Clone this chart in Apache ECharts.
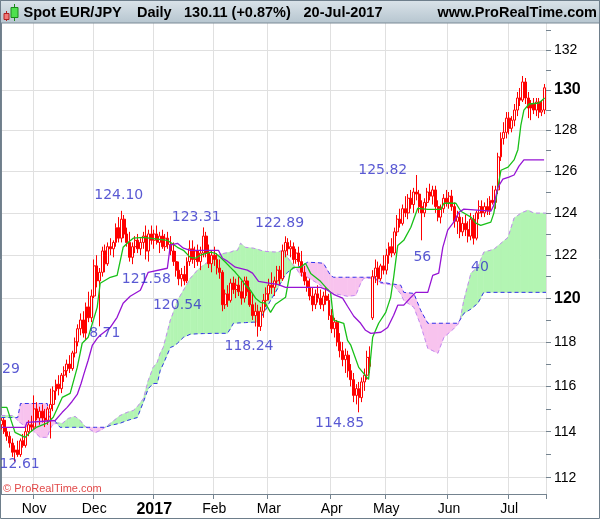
<!DOCTYPE html>
<html><head><meta charset="utf-8">
<script src="https://cdn.jsdelivr.net/npm/echarts@6/dist/echarts.min.js"></script>
<style>html,body{margin:0;padding:0;background:#fff}#c{width:600px;height:519px}</style>
</head><body><div id="c"></div>
<script>
// ---------- DATA ----------
const opens = [114.3,114.5,114.0,113.8,113.5,113.1,113.2,113.0,113.6,113.4,114.0,114.3,114.2,115.0,114.6,114.9,114.6,114.5,115.0,115.2,
115.8,116.1,115.9,116.5,116.7,117.0,116.8,117.5,118.0,118.6,119.0,118.4,119.6,119.1,120.1,121.5,120.8,121.2,122.2,121.6,
122.4,122.3,122.6,123.3,122.8,123.7,123.0,122.6,121.9,122.4,122.7,122.3,122.6,122.9,122.2,123.0,122.7,123.0,122.6,122.9,
122.4,122.8,122.5,122.2,121.7,121.3,120.9,121.1,120.8,121.7,122.3,121.8,122.2,121.7,122.1,122.9,122.1,121.6,122.0,121.8,
121.4,121.2,119.7,120.2,119.9,120.7,120.4,120.6,120.3,120.0,120.8,120.3,119.7,119.2,119.4,118.7,119.4,119.9,120.2,120.6,
120.5,120.8,121.3,120.9,122.2,122.6,122.3,122.4,121.8,122.1,121.7,121.2,120.8,120.5,120.1,119.7,120.2,120.0,119.7,120.1,
119.9,119.2,118.6,118.9,118.0,117.6,117.2,117.4,116.7,116.3,115.6,115.9,115.5,116.2,116.5,117.3,119.1,121.0,121.4,120.9,
121.5,121.3,122.0,122.4,122.1,123.1,123.7,123.5,124.2,124.0,124.7,124.4,125.0,124.9,124.3,124.0,124.5,125.0,124.8,125.1,
124.3,123.8,124.2,124.7,124.5,124.8,124.3,123.6,123.8,123.1,123.5,123.2,122.9,123.7,122.8,124.0,124.3,124.0,124.3,124.1,
124.6,124.5,125.1,126.7,127.6,127.9,128.6,128.1,128.5,129.0,129.6,129.5,130.4,129.6,129.1,129.3,129.0,129.4,128.9,129.0];
const highs = [114.6,114.6,114.2,114.0,113.7,113.4,113.6,113.7,113.9,114.2,114.5,114.7,115.6,115.3,115.1,115.2,115.0,115.1,115.9,116.0,
116.3,116.5,116.6,116.9,117.2,117.4,117.6,118.2,118.8,119.3,119.4,119.8,120.3,120.4,121.8,122.0,121.4,122.4,122.5,122.6,
122.8,122.7,123.5,123.8,124.10,123.9,123.3,123.1,122.6,122.9,123.0,122.8,123.1,123.4,123.2,123.4,123.2,123.4,123.1,123.2,
123.0,123.1,122.9,122.6,122.2,121.7,121.4,121.5,121.9,122.7,122.7,122.4,122.5,122.4,123.31,123.1,122.5,122.2,122.4,122.1,
121.8,121.3,120.4,120.6,120.9,121.0,120.9,121.0,120.8,121.0,121.0,120.5,120.2,119.8,119.7,119.6,120.2,120.5,120.9,121.2,
121.0,121.5,121.5,122.5,122.89,122.8,122.7,122.6,122.3,122.4,122.2,121.5,121.0,120.9,120.5,120.4,120.6,120.4,120.3,120.5,
120.2,119.5,119.1,119.0,118.4,118.0,117.7,117.6,117.0,116.6,116.1,116.2,116.4,116.8,117.6,117.8,121.3,121.8,121.7,121.6,
122.0,122.3,122.6,122.8,123.3,123.9,124.2,124.4,124.8,124.9,125.1,125.2,125.82,125.1,124.6,124.7,125.2,125.4,125.3,125.3,
124.6,124.4,124.9,125.1,125.0,125.1,124.5,124.1,124.0,123.8,123.9,123.6,124.0,123.9,124.1,124.6,124.6,124.5,124.7,124.8,
125.3,125.3,126.9,127.9,128.4,128.9,128.9,128.7,129.3,129.9,130.1,130.7,130.6,129.9,129.5,129.6,129.6,129.6,129.5,130.3];
const lows = [114.1,113.9,113.6,113.3,112.9,112.7,112.9,112.9,113.3,113.3,113.8,114.0,114.1,114.5,114.3,114.4,114.2,114.3,113.7,114.9,
115.4,115.6,115.7,116.2,116.4,116.6,116.7,117.3,117.8,118.3,118.2,118.1,118.9,118.9,120.0,120.5,118.71,121.0,121.2,121.5,
122.0,121.9,122.4,122.6,122.6,122.8,122.4,121.7,121.58,122.1,122.1,122.0,122.3,121.8,121.7,122.5,122.3,122.5,122.1,122.3,
122.2,122.3,122.0,121.5,121.0,120.6,120.54,120.6,120.7,121.5,121.6,121.4,121.5,121.3,121.9,121.9,121.4,121.2,121.5,121.1,
120.9,119.4,119.5,119.6,119.8,120.2,120.0,120.1,119.7,119.8,120.1,119.6,119.0,118.7,118.24,118.5,119.1,119.6,119.9,120.2,
120.1,120.6,120.6,120.8,121.9,122.0,121.9,121.6,121.6,121.5,121.0,120.6,120.3,119.9,119.4,119.5,119.8,119.5,119.4,119.7,
119.0,118.4,118.2,117.8,117.3,116.9,116.6,116.4,116.0,115.3,115.2,114.85,115.3,115.8,116.3,116.6,119.0,120.7,120.6,120.8,
121.1,121.1,121.6,121.9,122.0,122.9,123.3,123.4,123.8,123.7,124.2,124.0,124.6,124.0,122.7,123.8,124.3,124.6,124.4,124.0,
123.6,123.5,124.0,124.3,124.2,124.1,123.3,123.0,122.8,122.9,122.9,122.6,122.7,122.5,122.7,123.7,123.8,123.8,123.9,123.9,
124.4,124.2,124.9,126.5,127.3,127.6,127.8,127.9,128.2,128.7,129.2,129.4,129.3,128.6,128.5,128.8,128.7,128.6,128.7,128.8];
const closes = [114.5,114.0,113.8,113.5,113.1,113.2,113.0,113.6,113.4,114.0,114.3,114.2,115.0,114.6,114.9,114.6,114.5,115.0,115.2,115.8,
116.1,115.9,116.5,116.7,117.0,116.8,117.5,118.0,118.6,119.0,118.4,119.6,119.1,120.1,121.5,120.8,121.2,122.2,121.6,122.4,
122.3,122.6,123.3,122.8,123.7,123.0,122.6,121.9,122.4,122.7,122.3,122.6,122.9,122.2,123.0,122.7,123.0,122.6,122.9,122.4,
122.8,122.5,122.2,121.7,121.3,120.9,121.1,120.8,121.7,122.3,121.8,122.2,121.7,122.1,122.9,122.1,121.6,122.0,121.8,121.4,
121.2,119.7,120.2,119.9,120.7,120.4,120.6,120.3,120.0,120.8,120.3,119.7,119.2,119.4,118.7,119.4,119.9,120.2,120.6,120.5,
120.8,121.3,120.9,122.2,122.6,122.3,122.4,121.8,122.1,121.7,121.2,120.8,120.5,120.1,119.7,120.2,120.0,119.7,120.1,119.9,
119.2,118.6,118.9,118.0,117.6,117.2,117.4,116.7,116.3,115.6,115.9,115.5,116.2,116.5,117.3,116.9,121.0,121.4,120.9,121.5,
121.3,122.0,122.4,122.1,123.1,123.7,123.5,124.2,124.0,124.7,124.4,125.0,124.9,124.3,124.0,124.5,125.0,124.8,125.1,124.3,
123.8,124.2,124.7,124.5,124.8,124.3,123.6,123.8,123.1,123.5,123.2,122.9,123.7,122.8,124.0,124.3,124.0,124.3,124.1,124.6,
124.5,125.1,126.7,127.6,127.9,128.6,128.1,128.5,129.0,129.6,129.5,130.4,129.6,129.1,129.3,129.0,129.4,128.9,129.0,130.11];

// Tenkan-sen (green) [day index, price]
const tenkan = [[0,115.07],[2,115.07],[5,113.97],[8.7,113.75],[10.5,113.97],[13,114.2],[16.7,114.37],[19,114.63],[22.3,115.51],[25.2,115.69],
[27.8,116.85],[29.6,117.94],[31.8,118.21],[35.1,119.58],[36.2,120.69],[39.9,120.97],[42.4,121.06],[44.6,122.37],[46.1,122.56],[48.3,122.8],
[52,122.84],[60.8,122.7],[64.5,122.37],[66.7,122.23],[69.2,121.9],[71.1,121.86],[72.9,122.0],[76.6,122.14],[78.4,122.09],[80.2,121.9],
[82.1,121.67],[83.9,121.43],[85.7,121.2],[87.6,120.92],[89.4,120.6],[91.2,120.37],[93.1,120.0],[94.9,119.81],[96.7,119.77],[98.6,119.35],
[100.4,119.72],[104.1,120.04],[105.9,121.29],[107,121.43],[109.6,121.43],[111.4,121.62],[113.3,121.15],[116.9,120.78],[119.5,120.41],[120.6,120.27],
[121.7,118.99],[125.4,118.85],[126.8,118.07],[128,117.85],[130.9,116.85],[134.5,116.31],[136,118.21],[138.2,118.85],[140.8,119.35],[142.6,120.04],
[143.7,120.97],[145.2,122.46],[147.4,122.7],[150,123.32],[152.5,124.22],[156.2,124.17],[161,124.17],[162.1,124.46],[166.5,124.46],[168.3,124.08],
[172,123.8],[173.8,123.51],[175.6,123.41],[179.3,123.56],[180.4,123.99],[181.9,125.24],[183,126.05],[185.6,126.2],[187.8,126.55],[189.2,127.05],
[190.3,128.26],[191.4,129.0],[193.3,129.3],[196.9,129.35],[199,129.6]];

// Kijun-sen (purple)
const kijun = [[0,114.19],[8.7,114.19],[9.4,114.41],[19.7,114.49],[22.3,114.85],[24.1,115.07],[25.9,115.33],[27.8,115.64],[29.2,116.13],[30.3,116.58],
[31.8,117.17],[33.3,117.84],[35.1,118.16],[36.2,118.3],[39.9,118.66],[42.4,119.12],[44.6,119.77],[47.2,120.09],[50.9,120.37],[53.8,121.2],
[60.8,121.39],[61.9,122.47],[64.5,122.56],[66.7,122.33],[69.2,122.23],[79.5,122.23],[81,121.86],[82.8,121.72],[85.7,121.44],[90.1,121.3],
[92,121.16],[94.2,120.78],[98.6,120.69],[101.2,120.64],[104.1,120.5],[116.9,120.5],[119.5,120.37],[121.7,120.18],[125,120.0],[126.8,119.63],
[129.1,119.17],[131.6,118.85],[133.4,118.53],[135.3,118.39],[139,118.44],[141.5,118.66],[143.7,119.22],[145.2,119.68],[147.4,119.68],[150,120.04],
[151.8,120.27],[156.2,120.27],[158,121.06],[160.2,121.16],[161.7,122.37],[163.5,123.18],[165.7,123.56],[167.6,124.03],[169.4,124.18],[179.3,124.08],
[180.4,124.37],[181.9,125.23],[183.7,125.62],[185.9,125.72],[187.8,125.82],[189.6,126.25],[191.4,126.55],[198.8,126.55]];

// Cloud: [day index, Senkou span A, Senkou span B]
const cloud = [[0,114.71,114.62],[4,114.71,114.62],[5,114.62,114.62],[6,114.5,114.62],[7,114.38,115.24],[8,114.3,115.24],[11.6,114.05,115.24],[14.2,113.75,115.24],
[16.8,113.75,115.24],[17.8,114.1,114.62],[18.6,114.27,114.55],[19.7,114.35,114.46],[20.4,114.41,114.35],[21.5,114.38,114.19],[22.3,114.36,114.19],[24.5,114.58,114.19],
[27,114.67,114.19],[28.9,114.49,114.19],[30.3,114.27,114.19],[31,114.19,114.19],[31.8,114.14,114.19],[34.4,113.96,114.19],[36.2,114.05,114.19],[38,114.19,114.19],
[39.9,114.36,114.27],[43.5,114.71,114.37],[46.1,114.85,114.49],[48.3,114.93,114.57],[49.8,115.1,114.62],[52,115.45,115.3],[53.8,116.26,115.9],[55.6,116.85,116.13],
[57.1,117.08,116.13],[58.2,117.5,116.72],[59.3,117.75,117.0],[61.9,118.99,117.75],[63,119.35,117.8],[64.5,119.9,117.94],[66.7,120.37,118.21],[69.2,120.92,118.35],
[71.8,121.3,118.37],[74,121.53,118.38],[77.7,121.86,118.39],[80.2,122.05,118.39],[82.8,122.12,118.39],[83.9,122.14,118.6],[85,122.2,118.85],[86.5,122.23,118.86],
[87.6,122.56,118.87],[89.4,122.37,118.88],[92.3,122.33,118.9],[93.8,122.28,118.9],[96,122.19,119.3],[96.7,122.18,119.44],[98.6,122.16,119.9],[100.4,122.15,120.27],
[101.2,122.14,120.45],[102.3,122.2,120.69],[103.4,122.23,120.95],[104.8,121.9,121.2],[107,121.53,121.39],[107.8,121.43,121.43],[109.6,121.06,121.48],[112.2,120.97,121.67],
[115.8,120.69,121.65],[118,120.5,121.62],[119.9,120.38,121.2],[120.6,120.27,121.05],[121.7,120.22,120.97],[126.8,120.09,120.97],[129.8,120.13,120.97],[131.6,120.69,120.97],
[132.7,120.92,120.97],[136.4,120.92,120.97],[139,120.69,120.74],[143.7,120.6,120.65],[146.3,120.2,120.6],[147.4,119.9,120.27],[151.1,119.58,120.22],[153.6,118.76,119.44],
[156.2,117.71,118.85],[159.9,117.49,118.85],[162.1,118.21,118.85],[165.7,118.6,118.85],[167.2,118.8,118.85],[168,119.0,119.0],[169.4,119.9,119.3],[172,121.16,119.5],
[174.5,121.44,119.76],[176.7,122.14,120.27],[180.4,122.28,120.27],[183,122.56,120.27],[185.6,122.84,120.27],[187.8,123.75,120.27],[190.3,123.99,120.27],[192.9,124.13,120.27],
[195.1,123.99,120.27],[199.5,123.99,120.27]];

// price annotations: text, day index, price (label centre)
const annoText  = ['124.10','123.31','122.89','121.58','120.54','118.24','114.85','125.82','56','40','29','12.61','8.71'];
const annoIdx   = [43.0, 71.4, 101.9, 53.1, 64.5, 90.7, 123.9, 139.7, 154.2, 175.3, 3.5, 6.7, 37.9];
const annoPrice = [124.85,123.8,123.52,120.88,119.68,117.82,114.36,126.06,121.9,121.44,116.77,112.57,118.39];

const yLabels = [112,114,116,118,120,122,124,126,128,130,132];
const yTicks  = [112,113,114,115,116,117,118,119,120,121,122,123,124,125,126,127,128,129,130,131,132,133];
const monthNames = ['Jan','Feb','Mar','Apr','May','Jun','Jul','Aug','Sep','Oct','Nov','Dec'];

// trading days (weekdays) 14-Oct-2016 .. 20-Jul-2017
const categories = [];
for (let d = new Date(Date.UTC(2016,9,14)); d <= new Date(Date.UTC(2017,6,20)); d.setUTCDate(d.getUTCDate()+1)) {
  const wd = d.getUTCDay(); if (wd === 0 || wd === 6) continue;
  categories.push(d.toISOString().slice(0,10));
}
const isMonthStart = categories.map((c,i)=> i>0 && c.slice(5,7) !== categories[i-1].slice(5,7));

// ---------- CHART ----------
const L = Math.log;
const YMIN = L(111.30), YMAX = L(133.39);
const N = categories.length;
const chart = echarts.init(document.getElementById('c'));
const axisCol = '#74838f', gridCol = '#e0e0e0';
const GREEN = '#b3f5b3', PINK = '#f8c3ee';
const cloudData = cloud.map(p=>[p[0], L(p[1]), L(p[2])]);

function renderCloud(params, api) {
  const i = params.dataIndex;
  if (i >= cloudData.length - 1) return null;
  const p0 = cloudData[i], p1 = cloudData[i+1];
  const d0 = p0[1] - p0[2], d1 = p1[1] - p1[2];
  const c = (v)=>api.coord(v);
  const poly = (pts, col)=>({type: 'polygon', shape: {points: pts.map(c)},
    style: {fill: col, stroke: col, lineWidth: 0.6}});
  const children = [];
  if (d0 * d1 < 0) {
    const t = d0 / (d0 - d1);
    const xc = p0[0] + t * (p1[0] - p0[0]);
    const yc = p0[1] + t * (p1[1] - p0[1]);
    children.push(poly([[p0[0],p0[1]],[xc,yc],[p0[0],p0[2]]], d0 > 0 ? GREEN : PINK));
    children.push(poly([[xc,yc],[p1[0],p1[1]],[p1[0],p1[2]]], d1 > 0 ? GREEN : PINK));
  } else {
    if (d0 === 0 && d1 === 0) return null;
    children.push(poly([[p0[0],p0[1]],[p1[0],p1[1]],[p1[0],p1[2]],[p0[0],p0[2]]], (d0 + d1) > 0 ? GREEN : PINK));
  }
  return {type: 'group', children};
}

chart.setOption({
  animation: false,
  backgroundColor: '#ffffff',
  grid: {left: 0, right: 54, top: 23, bottom: 25, containLabel: false, outerBoundsMode: 'none'},
  xAxis: [{
    type: 'category', data: categories, boundaryGap: true,
    axisLine: {show: true, lineStyle: {color: axisCol, width: 1}},
    axisTick: {show: true, length: 5, interval: (i)=>isMonthStart[i], lineStyle: {color: axisCol}},
    axisLabel: {interval: (i)=>isMonthStart[i], margin: 8, color: '#000', fontSize: 14, fontFamily: 'Liberation Sans',
      formatter: (v)=>{ const m = +v.slice(5,7)-1; return m === 0 ? '{y|' + v.slice(0,4) + '}' : monthNames[m]; },
      rich: {y: {fontWeight: 'bold', fontSize: 16, fontFamily: 'Liberation Sans', color: '#000'}}},
    splitLine: {show: true, interval: (i)=>isMonthStart[i], lineStyle: {color: gridCol, width: 1}}
  }, {
    type: 'value', min: -0.5, max: N - 0.5, show: false
  }],
  yAxis: [{
    type: 'value', position: 'right', min: YMIN, max: YMAX,
    axisLine: {show: true, lineStyle: {color: axisCol, width: 1}},
    axisTick: {show: false, customValues: yLabels.map(L)},
    axisLabel: {customValues: yLabels.map(L), margin: 8, color: '#000', fontSize: 14, fontFamily: 'Liberation Sans',
      formatter: (v)=>{ const p = Math.round(Math.exp(v)); return p % 10 === 0 ? '{b|' + p + '}' : String(p); },
      rich: {b: {fontWeight: 'bold', fontSize: 16, fontFamily: 'Liberation Sans', color: '#000'}}},
    splitLine: {show: true, lineStyle: {color: gridCol, width: 1}}
  }, {
    type: 'value', position: 'right', min: YMIN, max: YMAX,
    axisLine: {show: false},
    axisTick: {show: true, length: 5, customValues: yTicks.map(L), lineStyle: {color: axisCol}},
    axisLabel: {show: false}, splitLine: {show: false}
  }],
  series: [
    {type: 'custom', name: 'Cloud', xAxisIndex: 1, yAxisIndex: 0, silent: true, z: 1, clip: true,
      renderItem: renderCloud, encode: {x: 0, y: [1, 2]}, data: cloudData},
    {type: 'line', name: 'Senkou A', xAxisIndex: 1, yAxisIndex: 0, symbol: 'none', silent: true, z: 2,
      lineStyle: {color: '#c28af0', width: 1, type: [4, 3]}, data: cloud.map(p=>[p[0], L(p[1])])},
    {type: 'line', name: 'Senkou B', xAxisIndex: 1, yAxisIndex: 0, symbol: 'none', silent: true, z: 2,
      lineStyle: {color: '#3434ea', width: 1, type: [4, 3]}, data: cloud.map(p=>[p[0], L(p[2])])},
    {type: 'candlestick', xAxisIndex: 0, yAxisIndex: 0, barWidth: 2.4, silent: true, z: 3,
      itemStyle: {color: '#ffffff', color0: '#ff0000', borderColor: '#ff0000', borderColor0: '#ff0000', borderWidth: 1},
      data: opens.map((o,i)=>[L(o), L(closes[i]), L(lows[i]), L(highs[i])])},
    {type: 'line', name: 'Tenkan', xAxisIndex: 1, yAxisIndex: 0, symbol: 'none', silent: true, z: 4,
      lineStyle: {color: '#18c018', width: 1.3}, data: tenkan.map(p=>[p[0], L(p[1])])},
    {type: 'line', name: 'Kijun', xAxisIndex: 1, yAxisIndex: 0, symbol: 'none', silent: true, z: 4,
      lineStyle: {color: '#9614d4', width: 1.3}, data: kijun.map(p=>[p[0], L(p[1])])},
    {type: 'scatter', xAxisIndex: 1, yAxisIndex: 0, symbolSize: 1, silent: true, z: 5,
      itemStyle: {color: 'rgba(0,0,0,0)'},
      label: {show: true, position: 'inside', formatter: (p)=>annoText[p.dataIndex],
        color: '#3030c8', fontSize: 14, fontFamily: 'DejaVu Sans'},
      data: annoIdx.map((x,i)=>[x, L(annoPrice[i])])}
  ],
  graphic: [
    {type: 'rect', z: 100, shape: {x: 0, y: 0, width: 600, height: 23},
      style: {fill: new echarts.graphic.LinearGradient(0,0,0,1,[{offset:0,color:'#dbe4ea'},{offset:1,color:'#b6c5cf'}]), stroke: '#7b8a96', lineWidth: 1}},
    {type: 'line', z: 101, shape: {x1: 6.5, y1: 11, x2: 6.5, y2: 21}, style: {stroke: '#b02020', lineWidth: 1}},
    {type: 'rect', z: 102, shape: {x: 4, y: 13.5, width: 5, height: 6}, style: {fill: '#f27878', stroke: '#b02020', lineWidth: 1}},
    {type: 'line', z: 101, shape: {x1: 14.5, y1: 4, x2: 14.5, y2: 21}, style: {stroke: '#1a8a1a', lineWidth: 1}},
    {type: 'rect', z: 102, shape: {x: 11, y: 7.5, width: 7, height: 10}, style: {fill: '#4ee04e', stroke: '#1a8a1a', lineWidth: 1}},
    {type: 'text', z: 103, x: 23.5, y: 12.5, style: {text: 'Spot EUR/JPY', fill: '#000', font: 'bold 14.5px "Liberation Sans"', verticalAlign: 'middle'}},
    {type: 'text', z: 103, x: 137, y: 12.5, style: {text: 'Daily', fill: '#000', font: 'bold 14.5px "Liberation Sans"', verticalAlign: 'middle'}},
    {type: 'text', z: 103, x: 184, y: 12.5, style: {text: '130.11 (+0.87%)', fill: '#000', font: 'bold 14.5px "Liberation Sans"', verticalAlign: 'middle'}},
    {type: 'text', z: 103, x: 303.5, y: 12.5, style: {text: '20-Jul-2017', fill: '#000', font: 'bold 14.5px "Liberation Sans"', verticalAlign: 'middle'}},
    {type: 'text', z: 103, x: 597, y: 12.5, style: {text: 'www.ProRealTime.com', fill: '#000', font: 'bold 14.5px "Liberation Sans"', align: 'right', verticalAlign: 'middle'}},
    {type: 'text', z: 103, x: 3, y: 489, style: {text: '\u00a9 ProRealTime.com', fill: '#e24a4a', font: '11px "Liberation Sans"', verticalAlign: 'middle'}},
    {type: 'rect', z: 110, shape: {x: 0.5, y: 0.5, width: 599, height: 518}, style: {fill: 'none', stroke: '#6e7e8b', lineWidth: 1}}
  ]
});
</script>
</body></html>
